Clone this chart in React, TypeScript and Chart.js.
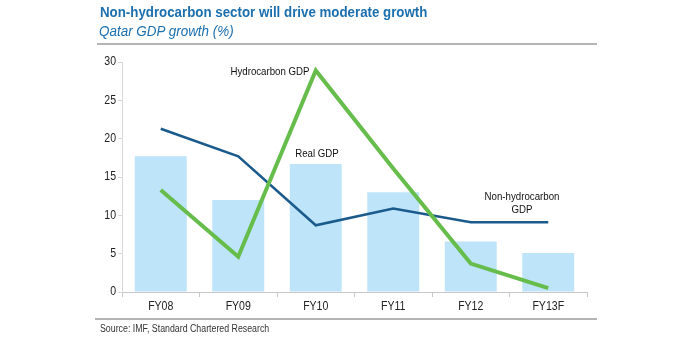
import React, { useEffect, useRef } from "react";
import { Chart, registerables } from "chart.js";

Chart.register(...registerables);

const categories = ["FY08", "FY09", "FY10", "FY11", "FY12", "FY13F"];
const realGdp = [17.7, 12.0, 16.7, 13.0, 6.6, 5.1];
const nonHydrocarbonGdp = [21.3, 17.7, 8.7, 10.9, 9.1, 9.1];
const hydrocarbonGdp = [13.3, 4.6, 28.9, 16.1, 3.7, 0.5];
const yTicks = [0, 5, 10, 15, 20, 25, 30];

const FONT = "'Liberation Sans', Arial, sans-serif";
const SQUEEZE = 0.88;

function drawText(ctx: any, text: string, x: number, y: number, align: string) {
  ctx.save();
  ctx.translate(x, y);
  ctx.scale(SQUEEZE, 1);
  ctx.textAlign = align;
  ctx.textBaseline = "middle";
  ctx.fillText(text, 0, 0);
  ctx.restore();
}

const labelsPlugin = {
  id: "condensedLabels",
  afterDraw(chart: any) {
    const ctx = chart.ctx;
    const xs = chart.scales.x;
    const ys = chart.scales.y;
    ctx.save();
    ctx.fillStyle = "#222";
    ctx.font = `12px ${FONT}`;
    categories.forEach((c, i) => {
      drawText(ctx, c, xs.getPixelForValue(i), 307, "center");
    });
    yTicks.forEach((v) => {
      drawText(ctx, String(v), ys.left + ys.width - 6, ys.getPixelForValue(v), "right");
    });
    ctx.fillStyle = "#111";
    ctx.font = `11px ${FONT}`;
    drawText(ctx, "Hydrocarbon GDP", 270, 72, "center");
    drawText(ctx, "Real GDP", 317, 154, "center");
    drawText(ctx, "Non-hydrocarbon", 522, 197, "center");
    drawText(ctx, "GDP", 522, 210, "center");
    ctx.restore();
  },
};

export default function App() {
  const ref = useRef<HTMLCanvasElement>(null);
  useEffect(() => {
    document.body.style.margin = "0";
    const chart = new Chart(ref.current!, {
      type: "bar",
      data: {
        labels: categories,
        datasets: [
          {
            type: "line",
            label: "Hydrocarbon GDP",
            data: hydrocarbonGdp,
            borderColor: "#66bd4c",
            borderWidth: 4,
            pointRadius: 0,
            tension: 0,
            order: 0,
          },
          {
            type: "line",
            label: "Non-hydrocarbon GDP",
            data: nonHydrocarbonGdp,
            borderColor: "#1b5a8c",
            borderWidth: 2.5,
            pointRadius: 0,
            tension: 0,
            order: 1,
          },
          {
            type: "bar",
            label: "Real GDP",
            data: realGdp,
            backgroundColor: "#bde4f9",
            barPercentage: 0.67,
            categoryPercentage: 1,
            order: 2,
          },
        ],
      },
      options: {
        responsive: false,
        animation: false,
        layout: { padding: { left: 0, right: 105, top: 62, bottom: 0 } },
        plugins: { legend: { display: false }, tooltip: { enabled: false }, title: { display: false } },
        scales: {
          x: {
            offset: true,
            grid: { display: true, drawOnChartArea: false, drawTicks: true, tickLength: 5, color: "#c8c8c8", offset: true },
            border: { color: "#c8c8c8", width: 1 },
            ticks: { display: false },
            afterFit(scale: any) {
              scale.height = 46;
            },
          },
          y: {
            min: 0,
            max: 30,
            afterBuildTicks(scale: any) {
              scale.ticks = yTicks.map((v) => ({ value: v }));
            },
            grid: { display: true, drawOnChartArea: false, drawTicks: true, tickLength: 4, color: "#d8d8d8" },
            border: { color: "#d8d8d8", width: 1 },
            ticks: { display: false },
            afterFit(scale: any) {
              scale.width = 122;
            },
          },
        },
      },
      plugins: [labelsPlugin],
    });
    return () => chart.destroy();
  }, []);

  return (
    <div style={{ position: "relative", width: 692, height: 338, background: "#fff", overflow: "hidden" }}>
      <canvas ref={ref} width={692} height={338} style={{ position: "absolute", left: 0, top: 0 }} />
      <div
        style={{
          position: "absolute",
          left: 100,
          top: 4,
          fontFamily: FONT,
          fontWeight: "bold",
          fontSize: 14,
          color: "#1c6fae",
          whiteSpace: "nowrap",
          transform: "scaleX(0.95)",
          transformOrigin: "left top",
        }}
      >
        Non-hydrocarbon sector will drive moderate growth
      </div>
      <div
        style={{
          position: "absolute",
          left: 99,
          top: 23,
          fontFamily: FONT,
          fontStyle: "italic",
          fontSize: 14,
          color: "#1c6fae",
          whiteSpace: "nowrap",
          transform: "scaleX(0.96)",
          transformOrigin: "left top",
        }}
      >
        Qatar GDP growth (%)
      </div>
      <div style={{ position: "absolute", left: 97, top: 43, width: 500, height: 2, background: "#b4b4b4" }} />
      <div style={{ position: "absolute", left: 95, top: 318, width: 502, height: 2, background: "#b4b4b4" }} />
      <div
        style={{
          position: "absolute",
          left: 100,
          top: 323,
          fontFamily: FONT,
          fontSize: 10,
          color: "#333",
          whiteSpace: "nowrap",
          transform: "scaleX(0.88)",
          transformOrigin: "left top",
        }}
      >
        Source: IMF, Standard Chartered Research
      </div>
    </div>
  );
}
